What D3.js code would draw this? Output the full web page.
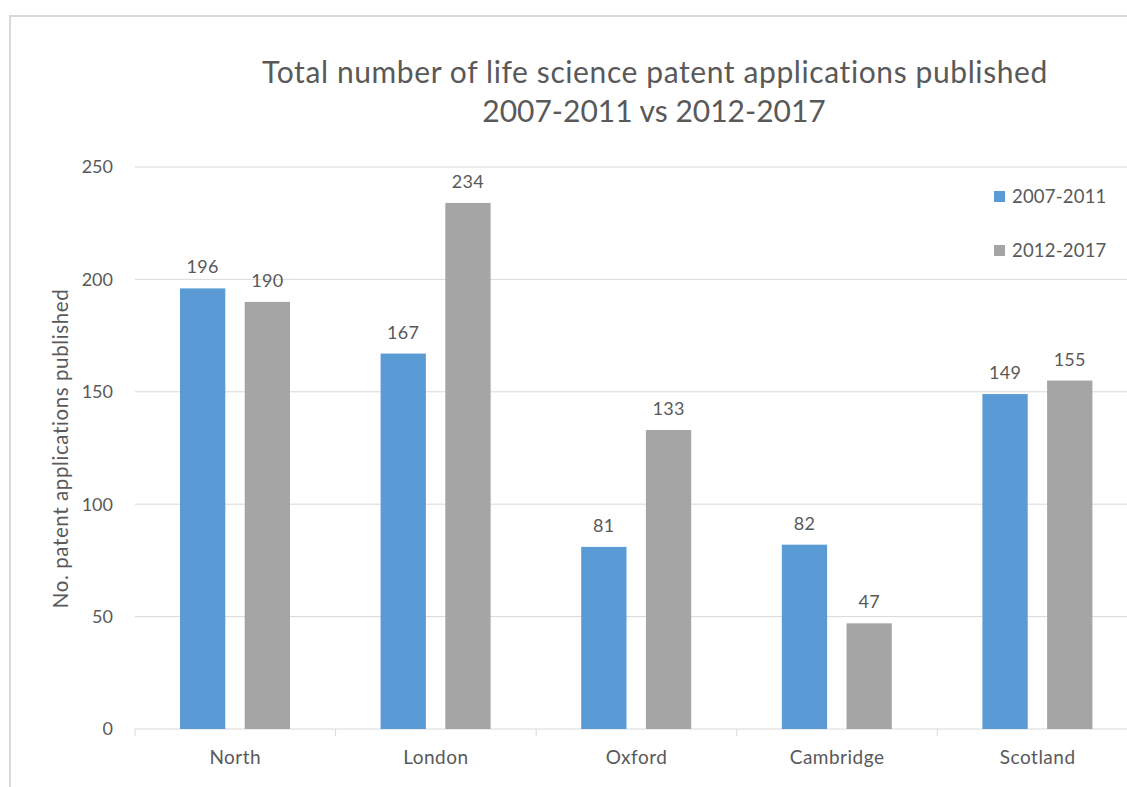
<!DOCTYPE html>
<html>
<head>
<meta charset="utf-8">
<script src="https://cdn.jsdelivr.net/npm/d3@7"></script>
<style>
  html, body { margin: 0; padding: 0; background: #fff; }
  svg { display: block; }
</style>
</head>
<body>
<div id="chart"></div>
<script>
// data
const regions = ["North", "London", "Oxford", "Cambridge", "Scotland"];
const seriesNames = ["2007-2011", "2012-2017"];
const values2007 = [196, 167, 81, 82, 149];
const values2012 = [190, 234, 133, 47, 155];
const yTicks = [0, 50, 100, 150, 200, 250];
const colors = ["#5b9bd5", "#a5a5a5"];

const width = 1127, height = 787;
const font = "Lato, 'Open Sans', sans-serif";
const textColor = "#595959";

// plot area (runs past the right edge, like the cropped original)
const plotLeft = 135, plotRight = 1138, plotTop = 167, plotBottom = 729;

const svg = d3.select("#chart").append("svg")
  .attr("width", width)
  .attr("height", height)
  .attr("font-family", font);

// chart frame
svg.append("path")
  .attr("d", `M10,${height + 5} L10,16 L${width + 5},16`)
  .attr("fill", "none")
  .attr("stroke", "#d9d9d9")
  .attr("stroke-width", 2);

const rows = regions.map((r, i) => ({ region: r, vals: [values2007[i], values2012[i]] }));

const x0 = d3.scaleBand().domain(regions).range([plotLeft, plotRight]).padding(0);
const x1 = d3.scaleBand().domain(d3.range(seriesNames.length))
  .range([45, 155]).paddingInner(0.3).paddingOuter(0);
const y = d3.scaleLinear().domain([0, 250]).range([plotBottom, plotTop]);

// gridlines
svg.append("g").selectAll("line")
  .data(yTicks.filter(d => d > 0))
  .join("line")
  .attr("x1", plotLeft).attr("x2", plotRight)
  .attr("y1", d => y(d)).attr("y2", d => y(d))
  .attr("stroke", "#d9d9d9").attr("stroke-width", 1);

// y tick labels
svg.append("g").selectAll("text")
  .data(yTicks)
  .join("text")
  .attr("x", 113)
  .attr("y", d => y(d))
  .attr("dy", "0.35em")
  .attr("text-anchor", "end")
  .attr("font-size", 18)
  .attr("fill", textColor)
  .text(d => d);

// x axis
const xAxis = svg.append("g")
  .attr("transform", `translate(0,${plotBottom})`);
xAxis.append("line")
  .attr("x1", plotLeft).attr("x2", plotRight)
  .attr("stroke", "#d9d9d9");
xAxis.selectAll(".boundary")
  .data(regions)
  .join("line")
  .attr("class", "boundary")
  .attr("x1", d => x0(d)).attr("x2", d => x0(d))
  .attr("y1", 0).attr("y2", 7)
  .attr("stroke", "#d9d9d9");
xAxis.selectAll(".label")
  .data(regions)
  .join("text")
  .attr("class", "label")
  .attr("x", d => x0(d) + x0.bandwidth() / 2)
  .attr("y", 35)
  .attr("text-anchor", "middle")
  .attr("font-size", 19)
  .attr("letter-spacing", 0.5)
  .attr("fill", textColor)
  .text(d => d);

// bars
const groups = svg.append("g").selectAll("g")
  .data(rows)
  .join("g")
  .attr("transform", d => `translate(${x0(d.region)},0)`);

groups.selectAll("rect")
  .data(d => d.vals)
  .join("rect")
  .attr("x", (d, i) => x1(i))
  .attr("y", d => y(d))
  .attr("width", x1.bandwidth())
  .attr("height", d => y(0) - y(d))
  .attr("fill", (d, i) => colors[i]);

groups.selectAll("text")
  .data(d => d.vals)
  .join("text")
  .attr("x", (d, i) => x1(i) + x1.bandwidth() / 2)
  .attr("y", d => y(d) - 15)
  .attr("text-anchor", "middle")
  .attr("font-size", 18)
  .attr("letter-spacing", 0.3)
  .attr("fill", textColor)
  .text(d => d);

// y axis title
svg.append("text")
  .attr("transform", `translate(68,${(285 + 612) / 2}) rotate(-90)`)
  .attr("text-anchor", "middle")
  .attr("font-size", 20.5)
  .attr("letter-spacing", 0.6)
  .attr("fill", textColor)
  .text("No. patent applications published");

// title
const title = svg.append("text")
  .attr("text-anchor", "middle")
  .attr("font-size", 30)
  .attr("fill", textColor);
title.append("tspan").attr("x", 655).attr("y", 83)
  .attr("letter-spacing", 0.6)
  .text("Total number of life science patent applications published");
title.append("tspan").attr("x", 654).attr("y", 122)
  .attr("letter-spacing", 0)
  .text("2007-2011 vs 2012-2017");

// legend
const legend = svg.append("g").selectAll("g")
  .data(seriesNames)
  .join("g")
  .attr("transform", (d, i) => `translate(994,${191 + i * 54})`);
legend.append("rect")
  .attr("width", 11).attr("height", 11)
  .attr("fill", (d, i) => colors[i]);
legend.append("text")
  .attr("x", 18).attr("y", 12)
  .attr("font-size", 18.5)
  .attr("letter-spacing", 0.2)
  .attr("fill", textColor)
  .text(d => d);
</script>
</body>
</html>
